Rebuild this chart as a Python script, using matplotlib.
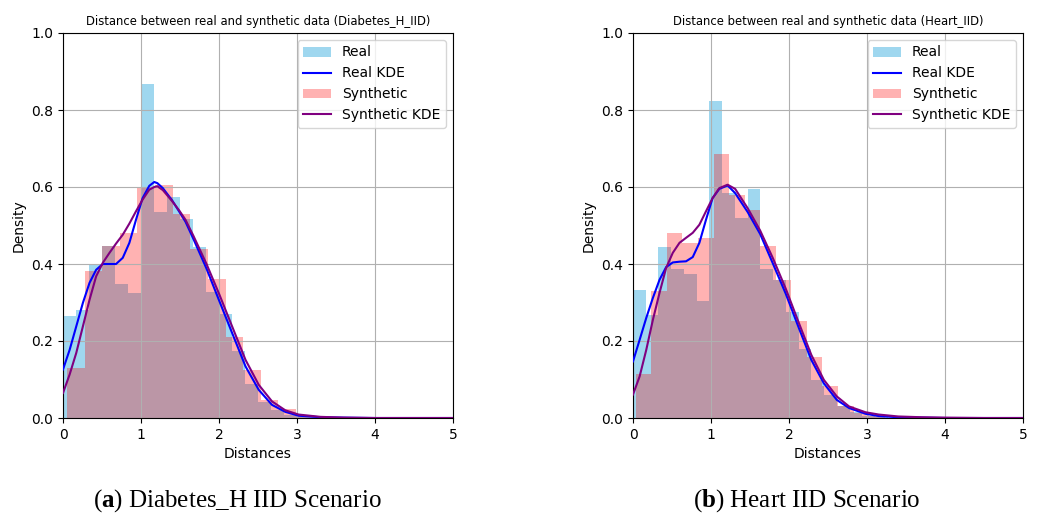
import numpy as np
import matplotlib
matplotlib.use("Agg")
import matplotlib.pyplot as plt

plt.rcParams['mathtext.fontset'] = 'custom'
plt.rcParams['mathtext.rm'] = 'Liberation Serif'
plt.rcParams['mathtext.bf'] = 'Liberation Serif:bold'

# ---------------- data: Diabetes_H IID ----------------
dia_real_start, dia_real_width = 0.0, 0.167
dia_real_heights = [0.265, 0.28, 0.40, 0.448, 0.347, 0.325, 0.867, 0.534, 0.575, 0.516,
                    0.445, 0.328, 0.27, 0.173, 0.089, 0.041, 0.022, 0.009, 0.005, 0.002]
dia_syn_start, dia_syn_width = 0.05, 0.226
dia_syn_heights = [0.131, 0.382, 0.448, 0.48, 0.601, 0.606, 0.53, 0.438, 0.362, 0.21,
                   0.125, 0.047, 0.023, 0.009, 0.003]
dia_kde_x = [0, 0.085, 0.17, 0.255, 0.34, 0.425, 0.51, 0.596, 0.68, 0.766, 0.851, 0.936,
             1.02, 1.106, 1.17, 1.21, 1.28, 1.40, 1.49, 1.57, 1.67, 1.84, 2.0, 2.17, 2.34,
             2.51, 2.68, 2.85, 3.02, 3.3, 3.6, 4.0, 4.5, 5.0]
dia_real_kde = [0.126, 0.177, 0.238, 0.299, 0.351, 0.385, 0.40, 0.40, 0.40, 0.416, 0.455,
                0.515, 0.571, 0.603, 0.613, 0.610, 0.597, 0.565, 0.536, 0.51, 0.466,
                0.388, 0.306, 0.22, 0.134, 0.073, 0.034, 0.016, 0.006, 0.002, 0.001,
                0.0, 0.0, 0.0]
dia_syn_kde = [0.065, 0.113, 0.169, 0.238, 0.307, 0.368, 0.403, 0.429, 0.453, 0.476,
               0.505, 0.537, 0.567, 0.593, 0.600, 0.602, 0.592, 0.563, 0.539, 0.515,
               0.474, 0.40, 0.323, 0.237, 0.151, 0.086, 0.043, 0.02, 0.009, 0.003,
               0.001, 0.0, 0.0, 0.0]

# ---------------- data: Heart IID ----------------
hea_real_start, hea_real_width = 0.0, 0.1633
hea_real_heights = [0.332, 0.267, 0.444, 0.386, 0.373, 0.303, 0.823, 0.585, 0.519, 0.594,
                    0.388, 0.358, 0.276, 0.18, 0.099, 0.06, 0.03, 0.015, 0.006, 0.003]
hea_syn_start, hea_syn_width = 0.035, 0.1995
hea_syn_heights = [0.115, 0.329, 0.48, 0.454, 0.467, 0.686, 0.58, 0.541, 0.448, 0.358,
                   0.252, 0.159, 0.084, 0.032, 0.013, 0.004]
hea_kde_x = [0, 0.085, 0.17, 0.255, 0.34, 0.425, 0.51, 0.596, 0.68, 0.766, 0.851, 0.936,
             1.02, 1.106, 1.213, 1.31, 1.47, 1.63, 1.796, 1.958, 2.128, 2.286, 2.447,
             2.613, 2.77, 2.98, 3.15, 3.4, 3.7, 4.0, 4.5, 5.0]
hea_real_kde = [0.147, 0.203, 0.26, 0.312, 0.359, 0.392, 0.404, 0.406, 0.407, 0.418,
                0.455, 0.515, 0.571, 0.595, 0.604, 0.584, 0.535, 0.478, 0.40, 0.323,
                0.233, 0.151, 0.09, 0.047, 0.026, 0.011, 0.005, 0.002, 0.001, 0.0,
                0.0, 0.0]
hea_syn_kde = [0.061, 0.108, 0.177, 0.255, 0.325, 0.39, 0.429, 0.455, 0.468, 0.481,
               0.502, 0.537, 0.571, 0.597, 0.606, 0.595, 0.545, 0.487, 0.414, 0.336,
               0.246, 0.164, 0.099, 0.056, 0.03, 0.015, 0.009, 0.004, 0.002, 0.001,
               0.0, 0.0]

titles = ["Distance between real and synthetic data (Diabetes_H_IID)",
          "Distance between real and synthetic data (Heart_IID)"]
captions = [r"($\mathbf{a}$) Diabetes_H IID Scenario", r"($\mathbf{b}$) Heart IID Scenario"]

panels = [
    (dia_real_start, dia_real_width, dia_real_heights, dia_syn_start, dia_syn_width,
     dia_syn_heights, dia_kde_x, dia_real_kde, dia_syn_kde),
    (hea_real_start, hea_real_width, hea_real_heights, hea_syn_start, hea_syn_width,
     hea_syn_heights, hea_kde_x, hea_real_kde, hea_syn_kde),
]

fig = plt.figure(figsize=(10.37, 5.16), dpi=100)
W, H = 1037, 516
ax_lefts = [63, 633]
for i, (rs, rw, rh, ss, sw, sh, kx, rk, sk) in enumerate(panels):
    ax = fig.add_axes([ax_lefts[i] / W, (H - 418) / H, 390 / W, 385 / H])
    r_edges = rs + rw * np.arange(len(rh) + 1)
    s_edges = ss + sw * np.arange(len(sh) + 1)
    ax.hist(r_edges[:-1], bins=r_edges, weights=rh, color='skyblue', alpha=0.8,
            label='Real')
    ax.plot(kx, rk, color='blue', lw=1.5, label='Real KDE', zorder=3,
            solid_joinstyle='round')
    ax.hist(s_edges[:-1], bins=s_edges, weights=sh, color='red', alpha=0.3,
            label='Synthetic')
    ax.plot(kx, sk, color='purple', lw=1.5, label='Synthetic KDE', zorder=3,
            solid_joinstyle='round')
    ax.set_xlim(0, 5)
    ax.set_ylim(0, 1.0)
    ax.set_xticks([0, 1, 2, 3, 4, 5])
    ax.set_yticks([0.0, 0.2, 0.4, 0.6, 0.8, 1.0])
    ax.grid(True, color='#b0b0b0', lw=0.8)
    ax.set_title(titles[i], fontsize=8.4)
    ax.set_xlabel('Distances', fontsize=10)
    ax.set_ylabel('Density', fontsize=10)
    ax.tick_params(labelsize=10)
    ax.legend(loc='upper right', fontsize=10, borderaxespad=0.5)
    fig.text((ax_lefts[i] + 174) / W, 1 - 501 / H, captions[i], ha='center', va='center',
             fontsize=18, family='Liberation Serif')

fig.savefig('out.png', dpi=100)
